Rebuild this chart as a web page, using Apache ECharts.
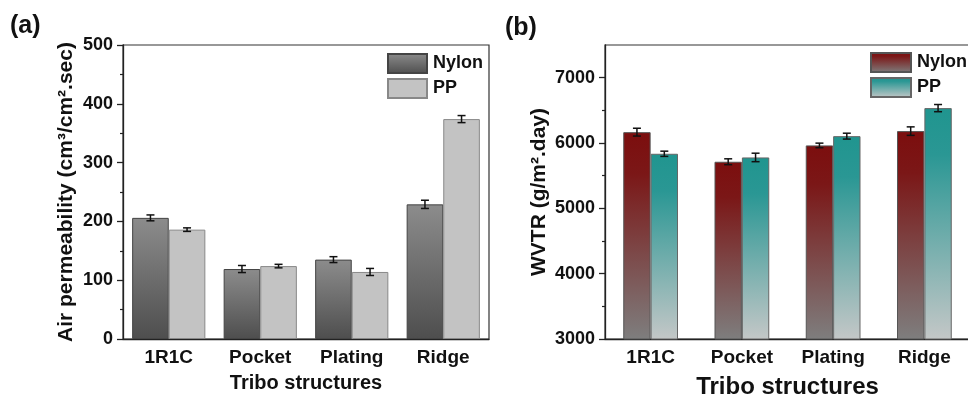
<!DOCTYPE html>
<html>
<head>
<meta charset="utf-8">
<script src="https://cdn.jsdelivr.net/npm/echarts@6/dist/echarts.min.js"></script>
<style>
html,body{margin:0;padding:0;background:#fff;}
#chart{width:968px;height:397px;}
</style>
</head>
<body>
<div id="chart"></div>
<script>
// ---- data ----
var categories = ['1R1C', 'Pocket', 'Plating', 'Ridge'];
// panel (a): air permeability
var airNylon = [206, 119, 135, 229];
var airNylonErr = [5, 6, 5, 7];
var airPP = [186, 124, 114, 374];
var airPPErr = [3, 3, 6, 6];
// panel (b): WVTR
var wvtrNylon = [6166, 5713, 5963, 6182];
var wvtrNylonErr = [60, 45, 35, 65];
var wvtrPP = [5835, 5779, 6105, 6534];
var wvtrPPErr = [40, 65, 45, 55];
// tick labels
var airTicks = [0, 100, 200, 300, 400, 500];
var airMinorTicks = [50, 150, 250, 350, 450];
var wvtrTicks = [3000, 4000, 5000, 6000, 7000];
var wvtrMinorTicks = [3500, 4500, 5500, 6500];

var FONT = '"Liberation Sans", Arial, sans-serif';
var chart = echarts.init(document.getElementById('chart'));

function grad(stops) {
  return new echarts.graphic.LinearGradient(0, 0, 0, 1, stops.map(function (s) { return { offset: s[0], color: s[1] }; }));
}
var colANylon = grad([[0, '#8c8c8c'], [1, '#4e4e4e']]);
var colAPP = '#c3c3c3';
var colBNylon = grad([[0, '#7c0e0e'], [0.2, '#7b1717'], [1, '#7e7e7e']]);
var colBPP = grad([[0, '#20958f'], [0.2, '#2a9794'], [1, '#c4c7c7']]);

function errData(vals, errs) {
  return vals.map(function (v, i) { return [i, v, errs[i]]; });
}
function errRender(frac) {
  return function (params, api) {
    var xi = api.value(0), v = api.value(1), e = api.value(2);
    var band = api.size([1, 0])[0];
    var off = band * frac;
    var top = api.coord([xi, v + e]);
    var bot = api.coord([xi, v - e]);
    var x = top[0] + off;
    var cw = 4;
    var st = { stroke: '#111', lineWidth: 1.5 };
    return {
      type: 'group',
      children: [
        { type: 'line', shape: { x1: x, y1: top[1], x2: x, y2: bot[1] }, style: st },
        { type: 'line', shape: { x1: x - cw, y1: top[1], x2: x + cw, y2: top[1] }, style: st },
        { type: 'line', shape: { x1: x - cw, y1: bot[1], x2: x + cw, y2: bot[1] }, style: st }
      ]
    };
  };
}

var labelStyle = { color: '#111', fontFamily: FONT, fontWeight: 'bold' };
function catAxes(gi, nameSize, nameGap) {
  return [
    {
      type: 'category', gridIndex: gi, data: categories, position: 'bottom',
      name: 'Tribo structures', nameLocation: 'middle', nameGap: nameGap,
      nameTextStyle: Object.assign({ fontSize: nameSize }, labelStyle),
      axisLine: { lineStyle: { color: '#222', width: 1.3 } },
      axisTick: { alignWithLabel: true, inside: false, length: 6, lineStyle: { color: '#222', width: 1.3 } },
      axisLabel: Object.assign({ fontSize: 19, margin: 9 }, labelStyle),
      splitLine: { show: false }
    },
    {
      type: 'category', gridIndex: gi, data: categories, position: 'bottom',
      axisLine: { show: false },
      axisTick: { alignWithLabel: false, length: 3, lineStyle: { color: '#222', width: 1.2 } },
      axisLabel: { show: false },
      splitLine: { show: false }
    }
  ];
}
function valAxes(gi, min, max, ticks, minor, name, nameGap) {
  return [
    {
      type: 'value', gridIndex: gi, min: min, max: max, position: 'left',
      name: name, nameLocation: 'middle', nameGap: nameGap, nameRotate: 90,
      nameTextStyle: Object.assign({ fontSize: 21 }, labelStyle),
      axisLine: { show: true, lineStyle: { color: '#222', width: 1.3 } },
      axisTick: { show: true, inside: false, length: 6, customValues: ticks, lineStyle: { color: '#222', width: 1.3 } },
      axisLabel: Object.assign({ fontSize: 18, margin: 10, customValues: ticks, formatter: function (v) { return String(v); } }, labelStyle),
      splitLine: { show: false }
    },
    {
      type: 'value', gridIndex: gi, min: min, max: max, position: 'left',
      axisLine: { show: false },
      axisTick: { show: true, inside: false, length: 3, customValues: minor, lineStyle: { color: '#222', width: 1.2 } },
      axisLabel: { show: false, customValues: minor },
      splitLine: { show: false }
    }
  ];
}

var option = {
  animation: false,
  backgroundColor: '#fff',
  textStyle: { fontFamily: FONT },
  graphic: [
    { type: 'text', left: 10, top: 14, style: { text: '(a)', fontSize: 25, fontWeight: 'bold', fontFamily: FONT, fill: '#111' } },
    { type: 'text', left: 505, top: 16, style: { text: '(b)', fontSize: 25, fontWeight: 'bold', fontFamily: FONT, fill: '#111' } }
  ],
  grid: [
    { left: 123, top: 45, width: 366, height: 294, show: true, borderColor: '#333', borderWidth: 1.2, backgroundColor: 'transparent', outerBoundsMode: 'none', containLabel: false },
    { left: 605, top: 45, width: 365, height: 294, show: true, borderColor: '#333', borderWidth: 1.2, backgroundColor: 'transparent', outerBoundsMode: 'none', containLabel: false }
  ],
  xAxis: catAxes(0, 20, 34).concat(catAxes(1, 24, 36)),
  yAxis: valAxes(0, 0, 500, airTicks, airMinorTicks, 'Air permeability (cm³/cm².sec)', 46)
    .concat(valAxes(1, 3000, 7500, wvtrTicks, wvtrMinorTicks, 'WVTR (g/m².day)', 55)),
  legend: [
    {
      orient: 'vertical', left: 382, top: 48, itemWidth: 39, itemHeight: 19, itemGap: 4, icon: 'rect',
      data: ['Nylon (a)', 'PP (a)'], selectedMode: false,
      formatter: function (n) { return n.split(' ')[0]; },
      textStyle: { fontSize: 18, fontWeight: 'bold', color: '#111', fontFamily: FONT, padding: [0, 0, 0, 1] }
    },
    {
      orient: 'vertical', left: 865, top: 47, itemWidth: 40, itemHeight: 19, itemGap: 4, icon: 'rect',
      data: ['Nylon (b)', 'PP (b)'], selectedMode: false,
      formatter: function (n) { return n.split(' ')[0]; },
      textStyle: { fontSize: 18, fontWeight: 'bold', color: '#111', fontFamily: FONT, padding: [0, 0, 0, 1] }
    }
  ],
  series: [
    { name: 'Nylon (a)', type: 'bar', xAxisIndex: 0, yAxisIndex: 0, data: airNylon, barWidth: '40%', barGap: '0%',
      itemStyle: { color: colANylon, borderColor: '#444', borderWidth: 1 } },
    { name: 'PP (a)', type: 'bar', xAxisIndex: 0, yAxisIndex: 0, data: airPP, barWidth: '40%', barGap: '0%',
      itemStyle: { color: colAPP, borderColor: '#888', borderWidth: 1 } },
    { name: 'Nylon (b)', type: 'bar', xAxisIndex: 2, yAxisIndex: 2, data: wvtrNylon, barWidth: '30%', barGap: '0%',
      itemStyle: { color: colBNylon, borderColor: '#555', borderWidth: 1 } },
    { name: 'PP (b)', type: 'bar', xAxisIndex: 2, yAxisIndex: 2, data: wvtrPP, barWidth: '30%', barGap: '0%',
      itemStyle: { color: colBPP, borderColor: '#666', borderWidth: 1 } },
    { type: 'custom', xAxisIndex: 0, yAxisIndex: 0, renderItem: errRender(-0.2), data: errData(airNylon, airNylonErr), z: 10, encode: { x: 0, y: 1 } },
    { type: 'custom', xAxisIndex: 0, yAxisIndex: 0, renderItem: errRender(0.2), data: errData(airPP, airPPErr), z: 10, encode: { x: 0, y: 1 } },
    { type: 'custom', xAxisIndex: 2, yAxisIndex: 2, renderItem: errRender(-0.15), data: errData(wvtrNylon, wvtrNylonErr), z: 10, encode: { x: 0, y: 1 } },
    { type: 'custom', xAxisIndex: 2, yAxisIndex: 2, renderItem: errRender(0.15), data: errData(wvtrPP, wvtrPPErr), z: 10, encode: { x: 0, y: 1 } }
  ]
};
chart.setOption(option);
</script>
</body>
</html>
